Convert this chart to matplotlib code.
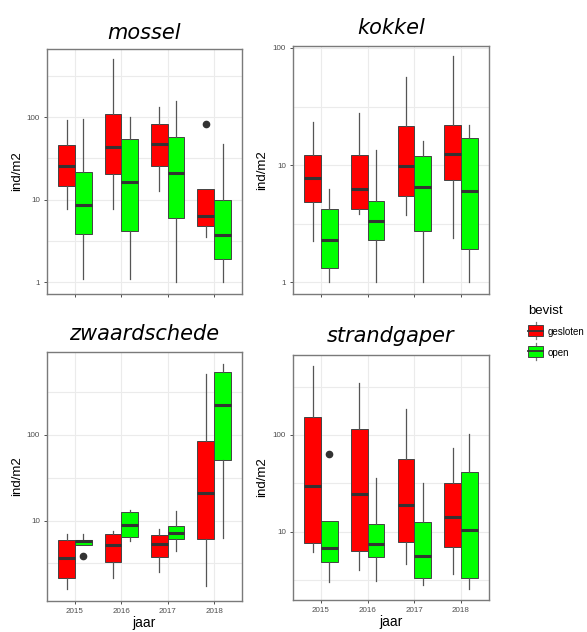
import matplotlib.pyplot as plt
from matplotlib.legend_handler import HandlerBase
from matplotlib.patches import Patch, Rectangle
from matplotlib.lines import Line2D

# Jaren en behandelingen
jaren = ['2015', '2016', '2017', '2018']
bevist = ['gesloten', 'open']
kleuren = {'gesloten': '#ff0000', 'open': '#00ff00'}

# Vijf-getallen samenvatting per jaar: (whislo, q1, mediaan, q3, whishi)
mossel_gesloten = [(7.7, 14.5, 25.7, 46, 91), (7.6, 20.4, 43.6, 109, 500),
                   (12.8, 25.2, 47.5, 81.5, 131), (3.55, 4.8, 6.3, 13.3, 13.3)]
mossel_open = [(1.1, 3.85, 8.6, 21.7, 95), (1.1, 4.15, 16.4, 53.5, 100),
               (1.0, 5.9, 21, 57, 158), (1.0, 1.9, 3.74, 10, 47.5)]
mossel_uitschieters_gesloten = [[], [], [], [81.5]]
mossel_uitschieters_open = [[], [], [], []]

kokkel_gesloten = [(2.25, 4.79, 7.74, 12.2, 23.3), (3.81, 4.17, 6.27, 12.2, 27.6),
                   (3.71, 5.43, 9.8, 21.4, 56.5), (2.38, 7.45, 12.5, 22.1, 84.7)]
kokkel_open = [(1.0, 1.32, 2.3, 4.17, 6.27), (1.0, 2.3, 3.3, 4.95, 13.4),
               (1.0, 2.74, 6.44, 11.9, 16.1), (1.0, 1.9, 6.03, 16.9, 21.8)]
kokkel_uitschieters_gesloten = [[], [], [], []]
kokkel_uitschieters_open = [[], [], [], []]

zwaard_gesloten = [(1.59, 2.14, 3.63, 6.0, 7.05), (2.14, 3.26, 5.14, 7.05, 7.57),
                   (2.51, 3.76, 5.28, 6.86, 8.06), (1.71, 6.1, 21.2, 85, 512)]
zwaard_open = [(5.19, 5.19, 5.84, 6.0, 6.9), (5.73, 6.44, 8.98, 12.5, 13.4),
               (4.41, 6.17, 7.25, 8.58, 12.9), (6.27, 50.6, 222, 536, 682)]
zwaard_uitschieters_gesloten = [[], [], [], []]
zwaard_uitschieters_open = [[3.83], [], [], []]

strand_gesloten = [(6.12, 7.59, 29.4, 154, 521), (4.05, 6.37, 24.7, 116, 345),
                   (4.6, 7.82, 18.7, 56, 186), (3.68, 7.0, 14.3, 31.6, 73.5)]
strand_open = [(3.0, 4.9, 6.73, 13.0, 13.0), (3.11, 5.43, 7.4, 12.1, 35.7),
               (2.79, 3.32, 5.65, 12.5, 31.9), (2.57, 3.32, 10.4, 41.4, 103)]
strand_uitschieters_gesloten = [[], [], [], []]
strand_uitschieters_open = [[64], [], [], []]

grote_ticks = [1, 10, 100]
kleine_ticks = [10 ** 0.5, 10 ** 1.5, 10 ** 2.5]


def maak_stats(samenvatting, uitschieters):
    stats = []
    for (lo, q1, med, q3, hi), fl in zip(samenvatting, uitschieters):
        stats.append(dict(whislo=lo, q1=q1, med=med, q3=q3, whishi=hi, fliers=fl))
    return stats


def boxplot_paneel(ax, titel, gesloten, open_, fl_gesloten, fl_open, ylim, pad, onderste):
    posities = range(1, len(jaren) + 1)
    for groep, data, fl, dx in [('gesloten', gesloten, fl_gesloten, -0.18),
                                ('open', open_, fl_open, 0.18)]:
        ax.bxp(maak_stats(data, fl), positions=[p + dx for p in posities], widths=0.36,
               patch_artist=True, showcaps=False, manage_ticks=False,
               boxprops=dict(facecolor=kleuren[groep], edgecolor='#444444', linewidth=0.7),
               medianprops=dict(color='#333333', linewidth=2.2, solid_capstyle='butt'),
               whiskerprops=dict(color='#555555', linewidth=0.9),
               flierprops=dict(marker='o', markerfacecolor='#333333',
                               markeredgecolor='#333333', markersize=4.5))

    ax.set_yscale('log')
    ax.set_yticks(grote_ticks)
    ax.set_yticklabels([str(t) for t in grote_ticks])
    ax.set_yticks(kleine_ticks, minor=True)
    ax.set_yticklabels([], minor=True)
    ax.set_xticks(list(posities))
    ax.set_xticklabels(jaren if onderste else [])
    # grenzen pas na de ticks, anders rekt set_yticks de as op
    ax.set_ylim(*ylim)
    ax.set_xlim(0.4, 4.6)
    ax.tick_params(axis='y', which='minor', length=0)
    ax.tick_params(which='major', length=2.5, width=0.6, color='#333333',
                   labelsize=5.8, labelcolor='#4d4d4d', pad=2.5)
    ax.grid(True, which='both', color='#ebebeb', linewidth=0.8)
    ax.set_axisbelow(True)
    for s in ax.spines.values():
        s.set_color('#7a7a7a')
        s.set_linewidth(1.0)

    ax.set_title(titel, fontsize=15, fontstyle='italic', family='DejaVu Sans', pad=pad)
    ax.set_ylabel('ind/m2', fontsize=9.5, family='Liberation Sans')
    ax.yaxis.set_label_coords(-0.125, 0.5)
    if onderste:
        ax.set_xlabel('jaar', fontsize=10, family='Liberation Sans')
        ax.xaxis.set_label_coords(0.5, -0.062)


class BoxSleutel(HandlerBase):
    def create_artists(self, legend, orig, xd, yd, w, h, fontsize, trans):
        snor = Line2D([xd + w / 2] * 2, [yd - 0.55 * h, yd + 1.55 * h],
                      color='#777777', lw=0.9, transform=trans)
        doos = Rectangle((xd, yd - 0.2 * h), w, 1.4 * h, facecolor=orig.get_facecolor(),
                         edgecolor='#444444', lw=0.7, transform=trans)
        med = Line2D([xd, xd + w], [yd + h / 2] * 2, color='#333333', lw=1.3, transform=trans)
        return [snor, doos, med]


W, H = 587, 632
fig = plt.figure(figsize=(W / 100, H / 100), dpi=100)
plt.rcParams['font.family'] = ['Liberation Sans', 'DejaVu Sans']


def ax_px(left, top, right, bottom):
    return fig.add_axes([left / W, 1 - bottom / H, (right - left) / W, (bottom - top) / H])


ax1 = ax_px(47, 49, 242, 294)
ax2 = ax_px(293, 46, 489, 294)
ax3 = ax_px(47, 352, 242, 601)
ax4 = ax_px(293, 355, 489, 600)

boxplot_paneel(ax1, 'mossel', mossel_gesloten, mossel_open,
               mossel_uitschieters_gesloten, mossel_uitschieters_open, (0.716, 667), 7.5, False)
boxplot_paneel(ax2, 'kokkel', kokkel_gesloten, kokkel_open,
               kokkel_uitschieters_gesloten, kokkel_uitschieters_open, (0.79, 104), 9, False)
boxplot_paneel(ax3, 'zwaardschede', zwaard_gesloten, zwaard_open,
               zwaard_uitschieters_gesloten, zwaard_uitschieters_open, (1.15, 930), 8.5, True)
boxplot_paneel(ax4, 'strandgaper', strand_gesloten, strand_open,
               strand_uitschieters_gesloten, strand_uitschieters_open, (1.97, 671), 9, True)

handles = [Patch(facecolor=kleuren[b]) for b in bevist]
leg = fig.legend(handles, bevist, handler_map={Patch: BoxSleutel()},
                 loc='upper left', bbox_to_anchor=(520 / W, 1 - 297 / H),
                 frameon=False, fontsize=7, title='bevist', title_fontsize=9.5,
                 alignment='left', handlelength=1.6, handleheight=0.9,
                 labelspacing=1.1, handletextpad=0.45, borderpad=0.3)

fig.savefig('out.png', dpi=100)
